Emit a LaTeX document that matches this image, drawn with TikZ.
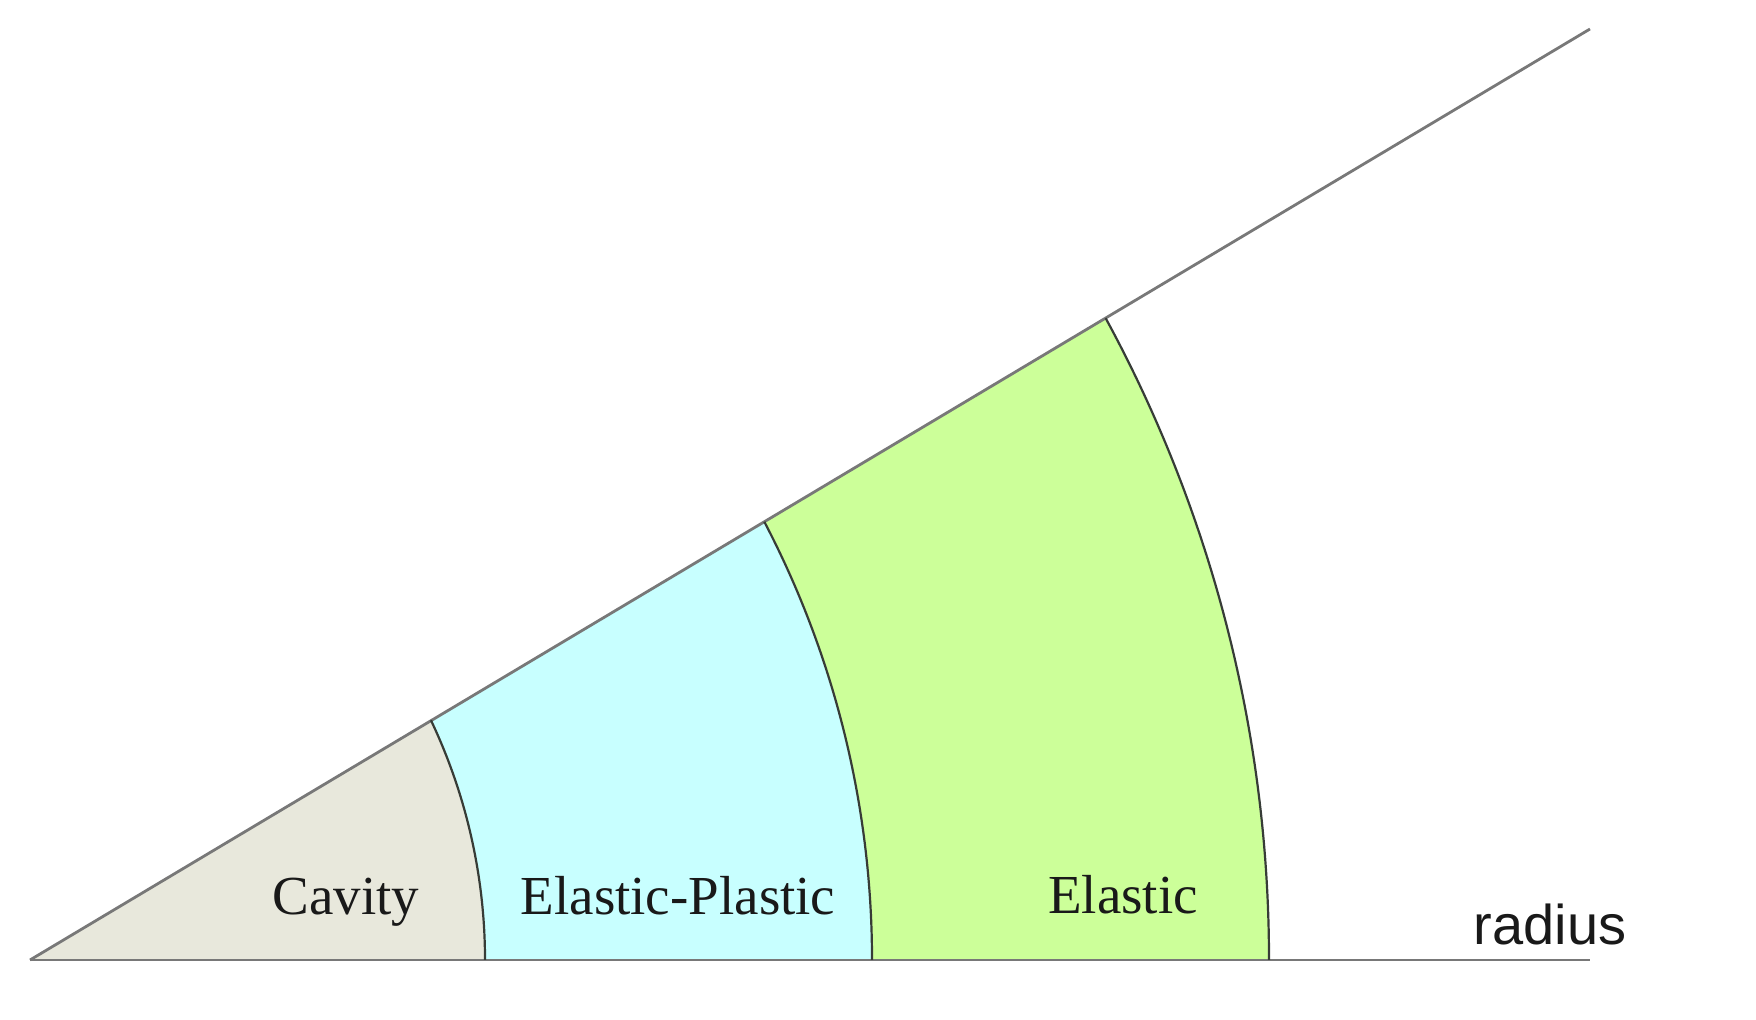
\documentclass[tikz,border=0pt]{standalone}
\usepackage{fontspec}
\setmainfont{Liberation Serif}
\newfontfamily\radfont{Liberation Sans}
\definecolor{cavfill}{RGB}{232,232,220}
\definecolor{epfill}{RGB}{200,255,255}
\definecolor{elfill}{RGB}{204,255,153}
\definecolor{axisgray}{RGB}{120,120,120}
\definecolor{arcgray}{RGB}{55,60,55}
\definecolor{txt}{RGB}{25,25,25}
\begin{document}
\begin{tikzpicture}[x=0.5pt,y=0.5pt,
  axisline/.style={draw=axisgray,line width=1.4pt},
  arcline/.style={draw=arcgray,line width=1.1pt},
  zonelabel/.style={font=\fontsize{27.5}{30}\selectfont,text=txt,anchor=base,inner sep=0pt},
  radlabel/.style={font=\radfont\fontsize{28}{30}\selectfont,text=txt,anchor=base,inner sep=0pt}]
\useasboundingbox (0,0) rectangle (1756,1020);
% key points
\coordinate (A) at (30,60);
\coordinate (E) at (1590,60);
\coordinate (U) at (1590,991);
\coordinate (B1) at (485,60);
\coordinate (B2) at (872,60);
\coordinate (B3) at (1269,60);
\coordinate (T1) at (430.9,299.8);
\coordinate (T2) at (764.5,498.2);
\coordinate (T3) at (1105.7,701.9);
% fills
\fill[cavfill] (A) -- (B1) arc[start angle=0,end angle=25.4,radius=559] -- cycle;
\fill[epfill] (B1) -- (B2) arc[start angle=0,end angle=27.6,radius=946] -- (T1) arc[start angle=25.4,end angle=0,radius=559] -- cycle;
\fill[elfill] (B2) -- (B3) arc[start angle=0,end angle=28.55,radius=1343] -- (T2) arc[start angle=27.6,end angle=0,radius=946] -- cycle;
% axes
\draw[axisline] (A) -- (E);
\draw[axisline] (A) -- (U);
% arcs
\draw[arcline] (B1) arc[start angle=0,end angle=25.4,radius=559];
\draw[arcline] (B2) arc[start angle=0,end angle=27.6,radius=946];
\draw[arcline] (B3) arc[start angle=0,end angle=28.55,radius=1343];
% labels
\node[zonelabel] (cav) at (346,105) {Cavity};
\node[zonelabel] (ep) at (678,105) {Elastic-Plastic};
\node[zonelabel] (el) at (1123,106) {Elastic};
\node[radlabel] (rad) at (1550,75) {radius};
\end{tikzpicture}
\end{document}
